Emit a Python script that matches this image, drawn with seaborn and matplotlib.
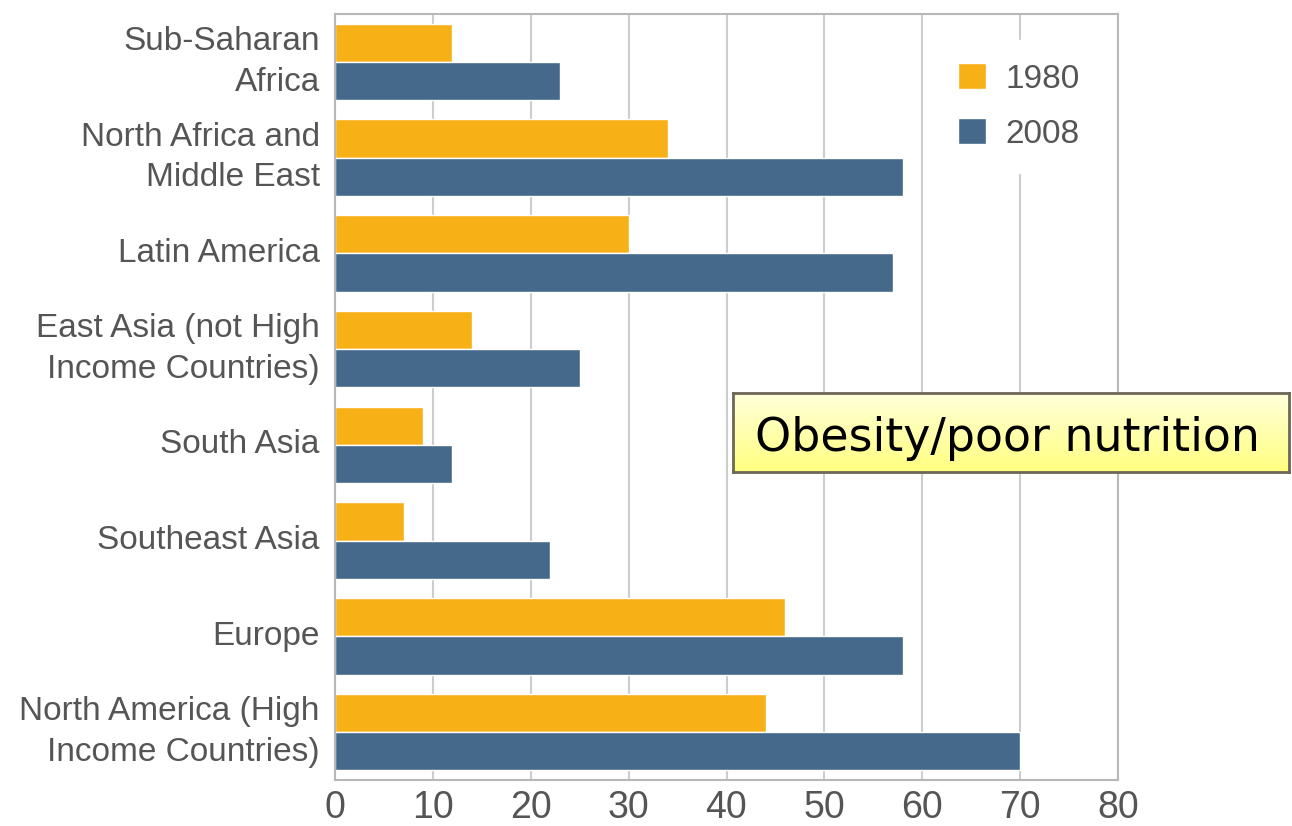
import numpy as np
import pandas as pd
import seaborn as sns
import matplotlib
matplotlib.use("Agg")
import matplotlib.pyplot as plt

regions = ["Sub-Saharan\nAfrica", "North Africa and\nMiddle East", "Latin America",
           "East Asia (not High\nIncome Countries)", "South Asia", "Southeast Asia",
           "Europe", "North America (High\nIncome Countries)"]
v1980 = [12, 34, 30, 14, 9, 7, 46, 44]
v2008 = [23, 58, 57, 25, 12, 22, 58, 70]
years = ["1980", "2008"]
xticks = [0, 10, 20, 30, 40, 50, 60, 70, 80]
note = "Obesity/poor nutrition"

orange = "#F8B017"
blue = "#45698A"

sns.set_theme(style="white")
plt.rcParams['font.family'] = ['Liberation Sans', 'DejaVu Sans']

df = pd.DataFrame({
    "region": regions * 2,
    "value": v1980 + v2008,
    "year": [years[0]] * len(regions) + [years[1]] * len(regions),
})

W, H = 1292, 826
fig = plt.figure(figsize=(W / 100, H / 100), dpi=100)
ax = fig.add_axes([335 / W, 1 - 780 / H, 783 / W, 766 / H])

sns.barplot(data=df, y="region", x="value", hue="year", order=regions,
            hue_order=years, palette=[orange, blue], width=0.8, saturation=1,
            orient="h", ax=ax, errorbar=None)

ax.set_xlim(0, 80)
ax.set_xticks(xticks)
ax.set_xticklabels([str(t) for t in xticks])
ax.grid(axis="x", color="#cdcdcd", lw=1.5)
ax.grid(axis="y", visible=False)
ax.set_axisbelow(True)
for s in ax.spines.values():
    s.set_visible(True)
    s.set_color("#b8b8b8")
    s.set_linewidth(1.5)
ax.set_xlabel("")
ax.set_ylabel("")
ax.tick_params(axis="y", labelsize=24, labelcolor="#555555", length=0, pad=11)
ax.tick_params(axis="x", labelsize=27, labelcolor="#555555", length=0, pad=7)
for lbl in ax.get_yticklabels():
    lbl.set_linespacing(1.4)
    lbl.set_verticalalignment("center")

leg = ax.legend(loc="upper left", bbox_to_anchor=((935 - 335) / 783, 1 - (40 - 14) / 766),
                borderaxespad=0, borderpad=0.7, frameon=True, facecolor="white",
                edgecolor="white", framealpha=1, fontsize=24, handlelength=0.82,
                handleheight=0.82, handletextpad=0.6, labelspacing=0.7)
for t in leg.get_texts():
    t.set_color("#555555")

# annotation box with yellow gradient
bx = fig.add_axes([733 / W, 1 - 472 / H, (1289 - 733) / W, 79 / H])
grad = np.linspace(0, 1, 100).reshape(-1, 1)
top = np.array([1.0, 1.0, 0.86])
bot = np.array([1.0, 1.0, 0.50])
img = top[None, None, :] * (1 - grad[:, :, None]) + bot[None, None, :] * grad[:, :, None]
bx.imshow(img, aspect="auto", extent=[0, 1, 0, 1])
bx.set_xticks([])
bx.set_yticks([])
for s in bx.spines.values():
    s.set_color("#6e6656")
    s.set_linewidth(2)
bx.text((755 - 733) / (1289 - 733), 0.43, note, fontsize=33, color="black",
        family=["DejaVu Sans"], va="center", ha="left")

fig.savefig("out.png", dpi=100)
